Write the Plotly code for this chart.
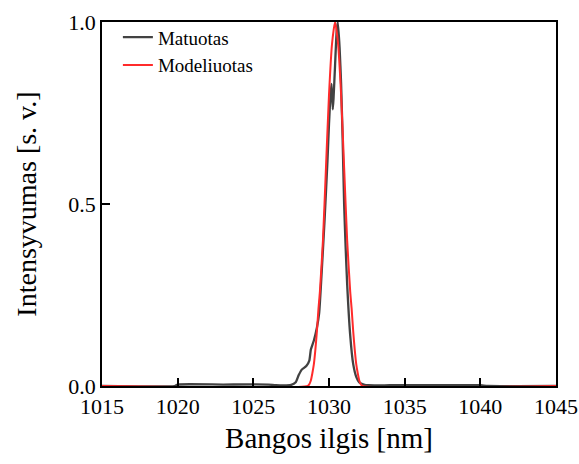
import plotly.graph_objects as go

meas_x = [1015, 1019.8, 1020.0, 1023.0, 1026.0, 1026.5, 1027.5, 1027.8, 1028.0, 1028.2, 1028.5,
          1028.7, 1028.8, 1029.0, 1029.2, 1029.35, 1029.5, 1029.7, 1029.9, 1030.0, 1030.1,
          1030.17, 1030.25, 1030.3, 1030.4, 1030.5, 1030.58, 1030.7, 1030.8, 1030.9, 1031.0,
          1031.1, 1031.2, 1031.4, 1031.6, 1031.8, 1032.0, 1032.3, 1032.6, 1034.0, 1036.0,
          1038.0, 1040.0, 1040.5, 1045]
meas_y = [0.0, 0.0, 0.004, 0.004, 0.004, 0.002, 0.003, 0.01, 0.03, 0.045, 0.055,
          0.07, 0.10, 0.125, 0.16, 0.20, 0.30, 0.45, 0.62, 0.72, 0.80,
          0.83, 0.76, 0.79, 0.88, 0.97, 1.0, 0.93, 0.83, 0.68, 0.50,
          0.38, 0.28, 0.14, 0.06, 0.025, 0.01, 0.004, 0.002, 0.002, 0.002,
          0.002, 0.002, 0.0, 0.0]

# Modelled spectrum
model_x = [1015, 1028.6, 1028.7, 1028.8, 1028.9, 1029.0, 1029.1, 1029.2, 1029.3, 1029.4,
           1029.6, 1029.8, 1030.0, 1030.2, 1030.4, 1030.6, 1030.8, 1031.0, 1031.2, 1031.4,
           1031.5, 1031.6, 1031.7, 1031.8, 1031.9, 1032.0, 1032.1, 1032.2, 1045]
model_y = [0.0, 0.0, 0.005, 0.015, 0.035, 0.06, 0.10, 0.15, 0.21, 0.26,
           0.40, 0.60, 0.80, 0.94, 1.0, 0.94, 0.80, 0.60, 0.40, 0.26,
           0.21, 0.15, 0.10, 0.06, 0.035, 0.015, 0.005, 0.0, 0.0]

x_ticks = [1015, 1020, 1025, 1030, 1035, 1040, 1045]
y_ticks = [0.0, 0.5, 1.0]

FONT = "Liberation Serif"

fig = go.Figure()
fig.add_trace(go.Scatter(x=meas_x, y=meas_y, mode="lines", name="Matuotas",
                         line=dict(color="#424242", width=2.3, shape="spline", smoothing=0.5),
                         legendgroup="a", cliponaxis=False))
fig.add_trace(go.Scatter(x=model_x, y=model_y, mode="lines", name="Modeliuotas",
                         line=dict(color="#ff2b2b", width=2, shape="spline", smoothing=0.6),
                         legendgroup="b", cliponaxis=False))

fig.update_layout(
    width=579, height=464,
    margin=dict(l=102, r=23, t=22, b=78, autoexpand=False),
    paper_bgcolor="white", plot_bgcolor="white",
    font=dict(family=FONT, color="black"),
    showlegend=True,
    legend=dict(x=0.035, y=1.01, xanchor="left", yanchor="top",
                bgcolor="rgba(0,0,0,0)", font=dict(family=FONT, size=19),
                tracegroupgap=0),
    xaxis=dict(range=[1015, 1045], tickvals=x_ticks, ticktext=[str(v) for v in x_ticks],
               ticks="inside", ticklen=8, tickwidth=1.5, tickcolor="black",
               showline=True, linecolor="black", linewidth=1.5, mirror=True,
               showgrid=False, zeroline=False, automargin=False,
               tickfont=dict(family=FONT, size=22),
               title=dict(text="Bangos ilgis [nm]", font=dict(family=FONT, size=29), standoff=10)),
    yaxis=dict(range=[0, 1], tickvals=y_ticks, ticktext=["0.0", "0.5", "1.0"],
               ticks="inside", ticklen=8, tickwidth=1.5, tickcolor="black",
               showline=True, linecolor="black", linewidth=1.5, mirror=True,
               showgrid=False, zeroline=False, automargin=False,
               tickfont=dict(family=FONT, size=22),
               title=dict(text="Intensyvumas [s. v.]", font=dict(family=FONT, size=28), standoff=24)),
)

fig.write_html("out.html")
